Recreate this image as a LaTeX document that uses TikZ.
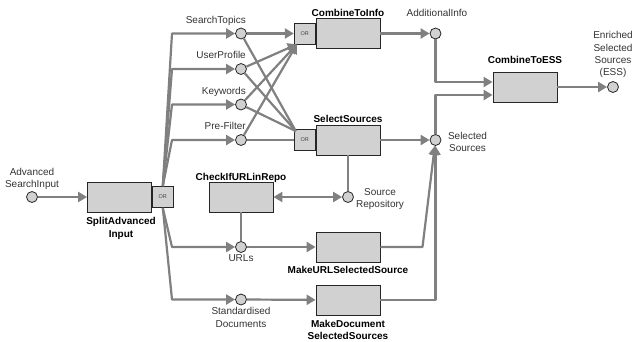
\documentclass[tikz,border=0pt]{standalone}
\usepackage{fontspec}
\setmainfont{Liberation Sans}
\usetikzlibrary{positioning,arrows.meta}
\tikzset{
	flow/.style={-{Triangle[length=9pt,width=10pt]}, draw=black!50, line width=2.2pt, line join=round}, % connector with a head
	plain/.style={-, draw=black!50, line width=2.2pt, line join=round},
	both/.style={{Triangle[length=9pt,width=10pt]}-{Triangle[length=9pt,width=10pt]}, draw=black!50, line width=2.2pt}
}

\begin{document}
\begin{tikzpicture}[x=1pt,y=-1pt,font=\fontsize{10}{12.3}\selectfont]
	\tikzset{my box/.style = {rectangle, draw=black!85, fill=black!18, line width=0.8pt, minimum width=64pt, minimum height=30pt, inner sep=0pt}}
	\tikzset{my or/.style = {my box, minimum width=21pt, minimum height=21pt, text=black!75, font=\fontsize{5.5}{6}\selectfont}}
	\tikzset{my dot/.style = {circle, draw=black!85, fill=black!18, line width=0.8pt, minimum size=11pt, inner sep=0pt}}
	\tikzset{my text/.style = {inner sep=1pt, align=center, text=black!80}}
	\tikzset{my title/.style = {inner sep=1pt, align=center, font=\fontsize{10}{12.3}\selectfont\bfseries}}
	\useasboundingbox (0,0) rectangle (634,341);
	% processes
	\node[my box] (split) at (119.5,197) {};
	\node[my or] (splitor) [right=0pt of split] {OR};
	\node[my box] (cti) at (348,33.5) {};
	\node[my or] (cor) [left=0pt of cti] {OR};
	\node[my box] (sel) at (348,140) {};
	\node[my or] (sor) [left=0pt of sel] {OR};
	\node[my box] (chk) at (241,197) {};
	\node[my box] (mus) at (348,247) {};
	\node[my box] (mds) at (348,300) {};
	\node[my box] (cte) at (525,87) {};
	% data
	\node[my dot] (asi) at (32,197) {};
	\node[my dot] (st) at (241,33.5) {};
	\node[my dot] (up) at (241,69) {};
	\node[my dot] (kw) at (241,104.5) {};
	\node[my dot] (pf) at (241,140) {};
	\node[my dot] (url) at (241,247) {};
	\node[my dot] (sd) at (241,299.5) {};
	\node[my dot] (ai) at (435.5,33.5) {};
	\node[my dot] (ss) at (435.5,140) {};
	\node[my dot] (sr) at (348,197) {};
	\node[my dot] (esso) at (613,87) {};
	% labels
	\node[my text, above=0pt of asi] (asil) {Advanced\\SearchInput};
	\foreach \d/\t in {st/SearchTopics, up/UserProfile, kw/Keywords, pf/Pre-Filter}
		\node[my text, anchor=base east] (\d l) at ([xshift=6pt,yshift=10.5pt]\d) {\t};
	\node[my text, below=1pt of url] (urll) {URLs};
	\node[my text, below=1pt of sd] (sdl) {Standardised\\Documents};
	\node[my text, anchor=base] (ail) at ([xshift=1.5pt,yshift=17pt]ai) {AdditionalInfo};
	\node[my text, anchor=north] (ssl) at ([xshift=32pt,yshift=9.3pt]ss) {Selected\\Sources};
	\node[my text, anchor=north] (srl) at ([xshift=32pt,yshift=9.5pt]sr) {Source\\Repository};
	\node[my text, above=2pt of esso] (essl) {Enriched\\Selected\\Sources\\(ESS)};
	\node[my title, below=4pt of split, xshift=1.5pt] (splitl) {SplitAdvanced\\Input};
	\node[my title, anchor=base] (ctil) at ([yshift=2pt]cti.north) {CombineToInfo};
	\node[my title, anchor=base] (sell) at ([yshift=2pt]sel.north) {SelectSources};
	\node[my title, anchor=base] (ctel) at ([yshift=8pt]cte.north) {CombineToESS};
	\node[my title, anchor=base] (chkl) at ([yshift=1.5pt]chk.north) {CheckIfURLinRepo};
	\node[my title, below=3pt of mus] (musl) {MakeURLSelectedSource};
	\node[my title, below=3.5pt of mds] (mdsl) {MakeDocument\\SelectedSources};
	% connectors
	\draw[flow] (asi) -- (split);
	\foreach \d/\y in {st/33.5, up/69, kw/104.5, pf/140}
		\draw[flow] (splitor.north) -- (172,\y) -- (\d);
	\foreach \d/\y in {url/247, sd/299.5}
		\draw[flow] (splitor.south) -- (172,\y) -- (\d);
	\draw[flow] (st) -- (cor);
	\foreach \d in {up,kw,pf}
		\draw[flow] (\d) -- ([xshift=3pt]cor.south west);
	\foreach \d in {st,up,kw}
		\draw[plain] (\d) -- ([xshift=2pt,yshift=-2pt]sor.north west);
	\draw[plain] (pf) -- (sor);
	\draw[flow] (cti) -- (ai);
	\draw[flow] (sel) -- (ss);
	\draw[flow] (ai) |- ([yshift=5pt]cte.west);
	\draw[flow] (ss) |- ([yshift=-8pt]cte.west);
	\draw[flow] (cte) -- (esso);
	\draw[plain] (sel) -- (sr);
	\draw[both] (chk) -- (sr);
	\draw[plain] (chk) -- (url);
	\draw[flow] (url) -- (mus);
	\draw[flow] (sd) -- (mds);
	\draw[flow] (mus) -- (422.5,247) -- (ss);
	\draw[flow] (mds) -| (ss);
\end{tikzpicture}
\end{document}
